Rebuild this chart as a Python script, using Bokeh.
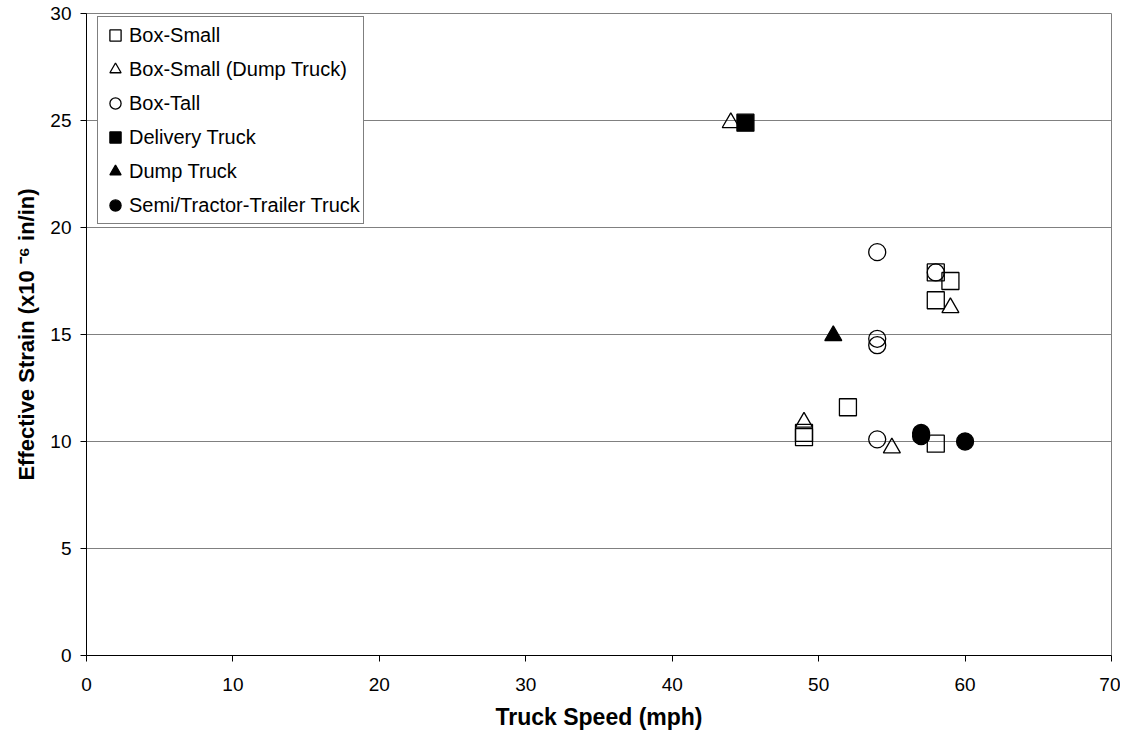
from bokeh.plotting import figure
from bokeh.models import Range1d, Legend, LegendItem, FixedTicker
from bokeh.embed import file_html
from bokeh.resources import INLINE

# Data
box_small_x = [58, 59, 58, 52, 49, 49, 58]
box_small_y = [17.9, 17.5, 16.6, 11.6, 10.4, 10.2, 9.9]
box_small_dump_x = [44, 59, 49, 55]
box_small_dump_y = [24.9, 16.25, 10.9, 9.7]
box_tall_x = [54, 58, 54, 54, 54]
box_tall_y = [18.85, 17.9, 14.8, 14.5, 10.1]
delivery_x = [45]
delivery_y = [24.9]
dump_x = [51]
dump_y = [14.95]
semi_x = [57, 57, 60]
semi_y = [10.4, 10.25, 10.0]

x_ticks = [0, 10, 20, 30, 40, 50, 60, 70]
y_ticks = [0, 5, 10, 15, 20, 25, 30]

FONT = "Liberation Sans"

p = figure(width=1120, height=738, output_backend="svg", toolbar_location=None,
           x_range=Range1d(0, 70), y_range=Range1d(0, 30),
           min_border_left=86, min_border_right=9, min_border_top=13, min_border_bottom=83)
p.background_fill_color = "white"
p.border_fill_color = "white"
p.outline_line_color = "#808080"
p.outline_line_width = 1

p.xgrid.visible = False
p.ygrid.grid_line_color = "#808080"
p.ygrid.grid_line_width = 1
p.ygrid.ticker = FixedTicker(ticks=y_ticks)

for ax in (p.xaxis[0], p.yaxis[0]):
    ax.axis_line_color = "black"
    ax.major_tick_line_color = "black"
    ax.major_tick_out = 6
    ax.major_tick_in = 0
    ax.minor_tick_line_color = None
    ax.major_label_text_font = FONT
    ax.major_label_text_font_size = "19px"
    ax.major_label_text_color = "black"
    ax.axis_label_text_font = FONT
    ax.axis_label_text_font_style = "bold"
    ax.axis_label_text_color = "black"

p.xaxis.ticker = FixedTicker(ticks=x_ticks)
p.yaxis.ticker = FixedTicker(ticks=y_ticks)
p.xaxis.axis_label = "Truck Speed (mph)"
p.yaxis.axis_label = "Effective Strain (x10 \u207b\u2076 in/in)"
p.xaxis.axis_label_text_font_size = "23px"
p.yaxis.axis_label_text_font_size = "22px"
p.xaxis.major_label_standoff = 16
p.xaxis.axis_label_standoff = 10
p.yaxis.major_label_standoff = 9
p.yaxis.axis_label_standoff = 8

S = 17
lw = 1.3
r1 = p.scatter(box_small_x, box_small_y, marker="square", size=S, line_color="black",
               line_width=lw, fill_alpha=0)
r2 = p.scatter(box_small_dump_x, box_small_dump_y, marker="triangle", size=S, line_color="black",
               line_width=lw, fill_alpha=0)
r3 = p.scatter(box_tall_x, box_tall_y, marker="circle", size=S, line_color="black",
               line_width=lw, fill_alpha=0)
r4 = p.scatter(delivery_x, delivery_y, marker="square", size=S, line_color="black",
               line_width=lw, fill_color="black")
r5 = p.scatter(dump_x, dump_y, marker="triangle", size=S, line_color="black",
               line_width=lw, fill_color="black")
r6 = p.scatter(semi_x, semi_y, marker="circle", size=S, line_color="black",
               line_width=lw, fill_color="black")

legend = Legend(items=[
    LegendItem(label="Box-Small", renderers=[r1]),
    LegendItem(label="Box-Small (Dump Truck)", renderers=[r2]),
    LegendItem(label="Box-Tall", renderers=[r3]),
    LegendItem(label="Delivery Truck", renderers=[r4]),
    LegendItem(label="Dump Truck", renderers=[r5]),
    LegendItem(label="Semi/Tractor-Trailer Truck", renderers=[r6]),
], location=(11, 431))
legend.border_line_color = "black"
legend.border_line_width = 1
legend.background_fill_alpha = 1
legend.label_text_font = FONT
legend.label_text_font_size = "20px"
legend.label_text_color = "black"
legend.glyph_width = 28
legend.glyph_height = 30
legend.label_height = 30
legend.spacing = 4
legend.padding = 3
legend.label_standoff = 0
legend.margin = 0
p.add_layout(legend, "center")

open("out.html", "w").write(file_html(p, INLINE))
